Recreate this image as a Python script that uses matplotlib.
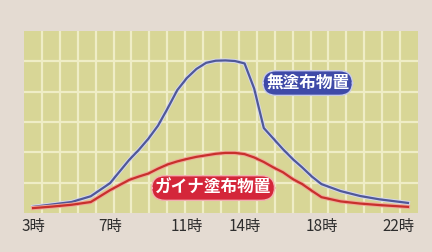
import matplotlib
matplotlib.use("Agg")
import matplotlib.pyplot as plt
import matplotlib.patheffects as pe

plt.rcParams['font.family'] = ['Noto Sans CJK JP', 'DejaVu Sans']

# hours of the day and readings (relative units, 0-60)
hours = [3, 4, 5, 6, 7, 8, 8.5, 9, 9.5, 10, 10.5, 11, 11.5, 12, 12.5, 13, 13.5, 14,
         14.5, 15, 15.5, 16, 16.5, 17, 17.5, 18, 19, 20, 21, 22, 22.5]
uncoated = [2.0, 2.8, 3.6, 5.5, 9.8, 17.5, 20.8, 24.5, 28.8, 34.5, 40.5, 44.5, 47.5,
            49.5, 50.2, 50.3, 50.1, 49.3, 41.0, 28.0, 24.5, 21.0, 17.8, 15.0, 12.0,
            9.5, 7.2, 5.6, 4.5, 3.7, 3.3]
gaina = [1.6, 2.1, 2.7, 3.6, 7.5, 10.9, 12.0, 13.0, 14.6, 16.0, 17.0, 17.8, 18.5,
         19.0, 19.5, 19.8, 19.8, 19.4, 18.3, 16.8, 15.0, 13.4, 11.2, 9.5, 7.3,
         5.2, 3.8, 3.1, 2.6, 2.2, 2.0]

tick_hours = [3, 7, 11, 14, 18, 22]
tick_labels = [f"{h}時" for h in tick_hours]

label_blue = "無塗布物置"
label_red = "ガイナ塗布物置"

bg = "#e4dbd2"
fill = "#d8d696"
gridc = "#efedc6"
blue = "#4f5898"
red = "#c8302c"

fig = plt.figure(figsize=(4.32, 2.52), dpi=100, facecolor=bg)
ax = fig.add_axes([0.0556, 0.155, 0.912, 0.722])
ax.set_facecolor(fill)

x0, x1 = 2.53, 23.02
ax.set_xlim(x0, x1)
ax.set_ylim(0, 60)

# grid: 22 columns, 6 rows
for k in range(1, 22):
    ax.axvline(x0 + k * (x1 - x0) / 22, color=gridc, lw=1.6, zorder=1)
for v in range(10, 60, 10):
    ax.axhline(v, color=gridc, lw=1.6, zorder=1)

ax.plot(hours, uncoated, color=blue, lw=1.6, zorder=3, solid_joinstyle="round",
        path_effects=[pe.Stroke(linewidth=3.0, foreground="#d4d6ee"), pe.Normal()])
ax.plot(hours, gaina, color=red, lw=1.6, zorder=3, solid_joinstyle="round",
        path_effects=[pe.Stroke(linewidth=3.0, foreground="#f0a898"), pe.Normal()])

ax.text(0.72, 0.714, label_blue, transform=ax.transAxes, ha="center", va="center",
        color="white", fontsize=12, fontweight="bold", zorder=5,
        bbox=dict(boxstyle="round,pad=0.2,rounding_size=0.8", fc="#3f4aa8",
                  ec="#c8cbe8", lw=1.0))
ax.text(0.48, 0.137, label_red, transform=ax.transAxes, ha="center", va="center",
        color="white", fontsize=12, fontweight="bold", zorder=5,
        bbox=dict(boxstyle="round,pad=0.2,rounding_size=0.8", fc="#d4263a",
                  ec="#f2b0b0", lw=1.0))

ax.set_xticks(tick_hours)
ax.set_xticklabels(tick_labels, fontsize=11, color="#2e2e2e")
ax.tick_params(axis="x", length=0, pad=4)
ax.set_yticks([])
for s in ax.spines.values():
    s.set_visible(False)

fig.savefig("out.png", dpi=100, facecolor=bg)
